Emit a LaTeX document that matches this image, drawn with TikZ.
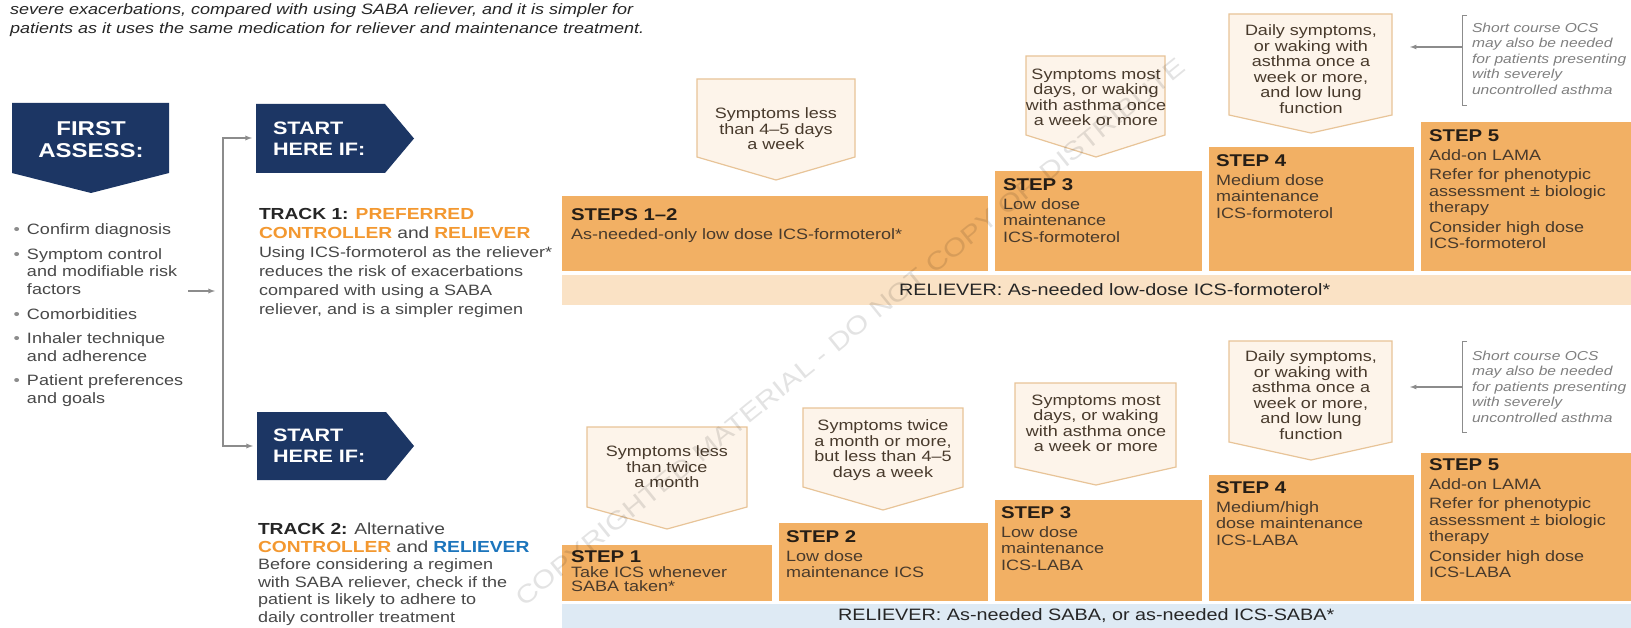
\documentclass[tikz,border=0pt]{standalone}
\usepackage{fontspec}
\setmainfont{Liberation Sans}[FakeStretch=1.2]
\usetikzlibrary{positioning}

\definecolor{navyblue}{RGB}{28,54,100}
\definecolor{steporange}{RGB}{242,176,100}
\definecolor{peachband}{RGB}{250,226,197}
\definecolor{skyband}{RGB}{222,234,244}
\definecolor{symfill}{RGB}{253,244,234}
\definecolor{symline}{RGB}{232,196,152}
\definecolor{hiorange}{RGB}{243,152,48}
\definecolor{hiblue}{RGB}{28,117,188}
\definecolor{ink}{RGB}{72,72,72}
\definecolor{darkink}{RGB}{38,38,38}
\definecolor{stepink}{RGB}{72,58,44}
\definecolor{headink}{RGB}{38,30,22}
\definecolor{linegray}{RGB}{140,140,140}
\definecolor{ocsgray}{RGB}{128,128,128}

\tikzstyle{every node}=[inner sep=0pt,outer sep=0pt]
\tikzstyle{arrow}=[draw=linegray,line width=1.3pt,->,>=latex]
\tikzstyle{navy text}=[anchor=north west,align=left,text=white,font=\bfseries\fontsize{18}{21}\selectfont]
\tikzstyle{sym}=[fill=symfill,draw=symline,line width=1.2pt]
\tikzstyle{sym text}=[anchor=north,align=center,text=stepink,font=\fontsize{15}{15.5}\selectfont]
\tikzstyle{stepbox}=[fill=steporange,anchor=north west]
\tikzstyle{step text}=[anchor=north west,align=left,text=stepink,font=\fontsize{15}{16.5}\selectfont]
\tikzstyle{body}=[anchor=north west,align=left,text=ink,font=\fontsize{15}{19}\selectfont]
\tikzstyle{ocs}=[anchor=north west,align=left,text=ocsgray,font=\itshape\fontsize{13}{15.5}\selectfont]
\tikzstyle{reliever text}=[anchor=west,text=darkink,font=\fontsize{16.5}{18}\selectfont]

\newcommand{\stephead}[1]{{\bfseries\fontsize{17}{17}\selectfont\color{headink}#1}}
\newcommand{\trk}[1]{{\bfseries\fontsize{16}{19}\selectfont #1}}
\newcommand{\bul}{\llap{\textcolor{linegray}{•}\hspace{7pt}}}

\begin{document}
\begin{tikzpicture}[x=1pt,y=-1pt]

\useasboundingbox (0,0) rectangle (1631,628);
\fill[white] (0,0) rectangle (1631,628);

% intro lines
\node[body,font=\itshape\fontsize{15}{19}\selectfont,text=darkink] (intro) at (10,4)
  {severe exacerbations, compared with using SABA reliever, and it is simpler for\\
   patients as it uses the same medication for reliever and maintenance treatment.};

% first assess
\fill[navyblue] (12,103) -- (169,103) -- (169,173) -- (91,193) -- (12,173) -- cycle;
\node[align=center,text=white,font=\bfseries\fontsize{20}{22}\selectfont] (first) at (91,140) {FIRST\\ASSESS:};

\node[body,font=\fontsize{15}{17.3}\selectfont] (assess list) at (27,224)
  {\bul Confirm diagnosis\\[7.5pt]
   \bul Symptom control\\ and modifiable risk\\ factors\\[7.5pt]
   \bul Comorbidities\\[7.5pt]
   \bul Inhaler technique\\ and adherence\\[7.5pt]
   \bul Patient preferences\\ and goals};

% start here boxes
\fill[navyblue] (256,104) -- (385,104) -- (414,138.5) -- (385,173) -- (256,173) -- cycle;
\node[navy text] (start1) at (273,121.5) {START\\HERE IF:};
\fill[navyblue] (257,412) -- (386,412) -- (414,446) -- (386,480) -- (257,480) -- cycle;
\node[navy text] (start2) at (273,428.5) {START\\HERE IF:};

% connectors
\coordinate (list out) at (188,291);
\coordinate (fork) at (223,291);
\coordinate (start1 in) at (256,138);
\coordinate (start2 in) at (257,446);
\draw[arrow,shorten >=8pt] (list out) -- (fork);
\draw[arrow,shorten >=4pt] (fork) |- (start1 in);
\draw[arrow,shorten >=4pt] (fork) |- (start2 in);

% track texts
\node[body] (track1) at (259,208)
  {\trk{\color{darkink}TRACK 1: \color{hiorange}PREFERRED}\\
   \trk{\color{hiorange}CONTROLLER} {\fontsize{16}{19}\selectfont and} \trk{\color{hiorange}RELIEVER}\\
   Using ICS-formoterol as the reliever*\\
   reduces the risk of exacerbations\\
   compared with using a SABA\\
   reliever, and is a simpler regimen};
\node[body,font=\fontsize{15}{17.5}\selectfont] (track2) at (258,523)
  {\trk{\color{darkink}TRACK 2:} {\fontsize{16}{17.5}\selectfont Alternative}\\
   \trk{\color{hiorange}CONTROLLER} {\fontsize{16}{17.5}\selectfont and} \trk{\color{hiblue}RELIEVER}\\
   Before considering a regimen\\
   with SABA reliever, check if the\\
   patient is likely to adhere to\\
   daily controller treatment};

% symptom arrows, track 1
\draw[sym] (697,79) -- (855,79) -- (855,157) -- (776,180) -- (697,157) -- cycle;
\node[sym text] (sym1a) at (776,108) {Symptoms less\\than 4–5 days\\a week};
\draw[sym] (1026,56) -- (1165,56) -- (1165,135) -- (1096,157) -- (1026,135) -- cycle;
\node[sym text] (sym1b) at (1096,69) {Symptoms most\\days, or waking\\with asthma once\\a week or more};
\draw[sym] (1229,14) -- (1392,14) -- (1392,115) -- (1311,133) -- (1229,115) -- cycle;
\node[sym text] (sym1c) at (1311,25) {Daily symptoms,\\or waking with\\asthma once a\\week or more,\\and low lung\\function};

% symptom arrows, track 2
\draw[sym] (587,427) -- (747,427) -- (747,507) -- (667,529) -- (587,507) -- cycle;
\node[sym text] (sym2a) at (667,446) {Symptoms less\\than twice\\a month};
\draw[sym] (803,408) -- (963,408) -- (963,487) -- (883,510) -- (803,487) -- cycle;
\node[sym text] (sym2b) at (883,420) {Symptoms twice\\a month or more,\\but less than 4–5\\days a week};
\draw[sym] (1015,383) -- (1176,383) -- (1176,467) -- (1096,485) -- (1015,467) -- cycle;
\node[sym text] (sym2c) at (1096,395) {Symptoms most\\days, or waking\\with asthma once\\a week or more};
\draw[sym] (1229,341) -- (1392,341) -- (1392,442) -- (1311,460) -- (1229,442) -- cycle;
\node[sym text] (sym2d) at (1311,351) {Daily symptoms,\\or waking with\\asthma once a\\week or more,\\and low lung\\function};

% short course OCS notes
\draw[linegray,line width=1pt] (1467,16) -- (1462,16) -- (1462,106) -- (1467,106);
\coordinate (ocs1) at (1462,47);
\coordinate (ocs1 tip) at (1410,47);
\draw[arrow,line width=1.2pt] (ocs1) -- (ocs1 tip);
\node[ocs] (ocs1 txt) at (1472,23) {Short course OCS\\may also be needed\\for patients presenting\\with severely\\uncontrolled asthma};
\draw[linegray,line width=1pt] (1467,342) -- (1462,342) -- (1462,432) -- (1467,432);
\coordinate (ocs2) at (1462,387);
\coordinate (ocs2 tip) at (1410,387);
\draw[arrow,line width=1.2pt] (ocs2) -- (ocs2 tip);
\node[ocs] (ocs2 txt) at (1472,351) {Short course OCS\\may also be needed\\for patients presenting\\with severely\\uncontrolled asthma};

% steps, track 1
\node[stepbox,minimum width=426pt,minimum height=75pt] (steps12) at (562,196) {};
\node[stepbox,minimum width=207pt,minimum height=100pt] (step3a) at (995,171) {};
\node[stepbox,minimum width=205pt,minimum height=124pt] (step4a) at (1209,147) {};
\node[stepbox,minimum width=210pt,minimum height=149pt] (step5a) at (1421,122) {};
\node[step text] (steps12 txt) at ([shift={(9,13)}]steps12.north west) {\stephead{STEPS 1–2}\\[2pt] As-needed-only low dose ICS-formoterol*};
\node[step text] (step3a txt) at ([shift={(8,8)}]step3a.north west) {\stephead{STEP 3}\\[2pt] Low dose\\maintenance\\ICS-formoterol};
\node[step text] (step4a txt) at ([shift={(7,8)}]step4a.north west) {\stephead{STEP 4}\\[2pt] Medium dose\\maintenance\\ICS-formoterol};
\node[step text] (step5a txt) at ([shift={(8,8)}]step5a.north west) {\stephead{STEP 5}\\[2pt] Add-on LAMA\\[3pt] Refer for phenotypic\\assessment ± biologic\\therapy\\[3pt] Consider high dose\\ICS-formoterol};
\node[fill=peachband,anchor=north west,minimum width=1069pt,minimum height=30pt] (relief1) at (562,275) {};
\node[reliever text] (relief1 txt) at (899,290) {RELIEVER: As-needed low-dose ICS-formoterol*};

% steps, track 2
\node[stepbox,minimum width=210pt,minimum height=56pt] (step1b) at (562,545) {};
\node[stepbox,minimum width=209pt,minimum height=78pt] (step2b) at (779,523) {};
\node[stepbox,minimum width=207pt,minimum height=101pt] (step3b) at (995,500) {};
\node[stepbox,minimum width=205pt,minimum height=126pt] (step4b) at (1209,475) {};
\node[stepbox,minimum width=210pt,minimum height=148pt] (step5b) at (1421,453) {};
\node[step text,font=\fontsize{15}{14.5}\selectfont] (step1b txt) at ([shift={(9,6)}]step1b.north west) {\stephead{STEP 1}\\ Take ICS whenever\\SABA taken*};
\node[step text] (step2b txt) at ([shift={(7,8)}]step2b.north west) {\stephead{STEP 2}\\[2pt] Low dose\\maintenance ICS};
\node[step text] (step3b txt) at ([shift={(6,7)}]step3b.north west) {\stephead{STEP 3}\\[2pt] Low dose\\maintenance\\ICS-LABA};
\node[step text] (step4b txt) at ([shift={(7,7)}]step4b.north west) {\stephead{STEP 4}\\[2pt] Medium/high\\dose maintenance\\ICS-LABA};
\node[step text] (step5b txt) at ([shift={(8,6)}]step5b.north west) {\stephead{STEP 5}\\[2pt] Add-on LAMA\\[3pt] Refer for phenotypic\\assessment ± biologic\\therapy\\[3pt] Consider high dose\\ICS-LABA};
\node[fill=skyband,anchor=north west,minimum width=1069pt,minimum height=26pt] (relief2) at (562,604) {};
\node[reliever text] (relief2 txt) at (838,616) {RELIEVER: As-needed SABA, or as-needed ICS-SABA*};

% watermark
\node[rotate=39,text=black,text opacity=0.11,font=\fontsize{25}{25}\selectfont] (watermark) at (850,332)
  {COPYRIGHTED MATERIAL - DO NOT COPY OR DISTRIBUTE};

\end{tikzpicture}
\end{document}
